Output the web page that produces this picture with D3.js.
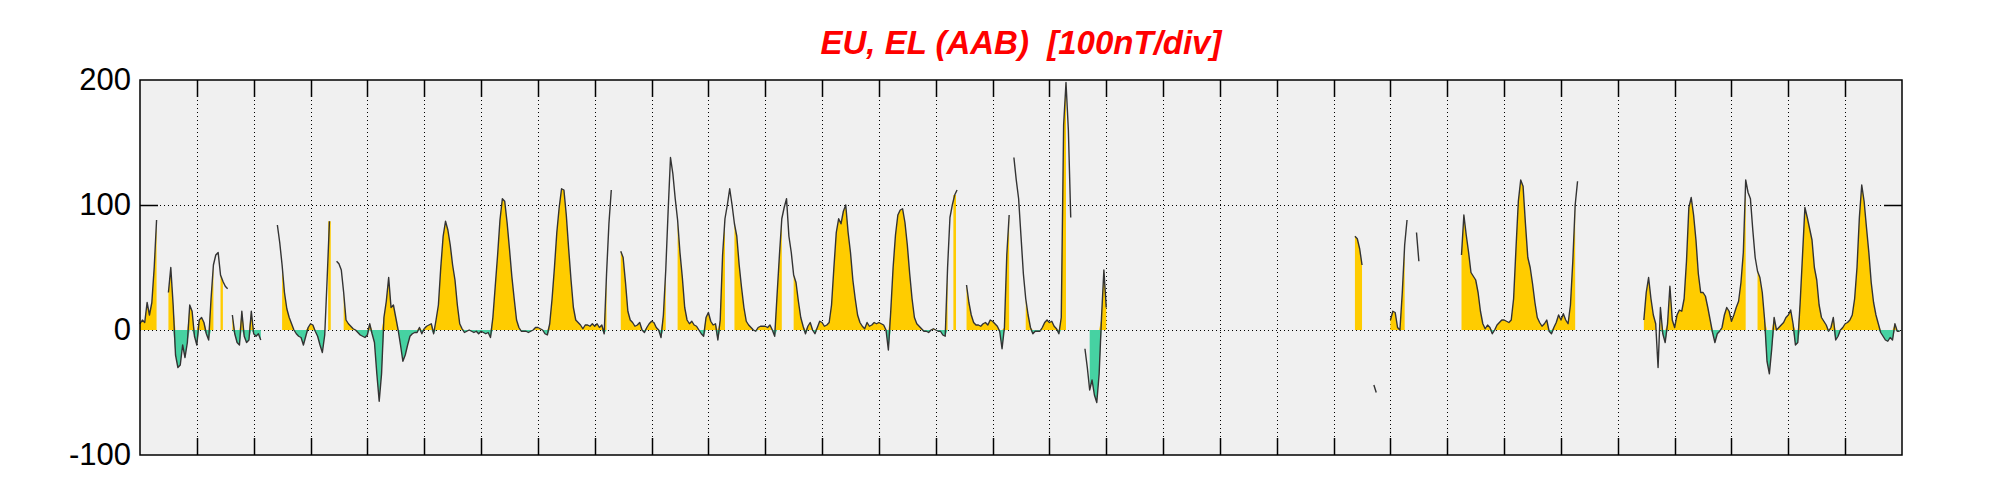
<!DOCTYPE html>
<html><head><meta charset="utf-8">
<script src="https://cdn.jsdelivr.net/npm/d3@7"></script>
<style>body{margin:0;background:#fff}svg{display:block}</style>
</head><body>
<svg id="chart" width="2001" height="500"></svg>
<script>
const chartTitle = "EU, EL (AAB)  [100nT/div]";
const yTickValues = [-100, 0, 100, 200];
const yTickLabels = ["-100", "0", "100", "200"];
const dayCount = 31;
const hoursPerDay = 24;

// hourly values (nT), one row per day; null = missing data
const dailyValues = [
 [5, 8, 6, 22, 12, 22, 50, 88, null, null, null, null, 30, 50, 20, -20, -30, -28, -12, -22, -10, 20, 15, -5],
 [-12, 8, 10, 6, -3, -8, 25, 52, 60, 62, 44, 39, 35, 33, null, 12, -3, -10, -12, 15, -5, -10, -8, 15],
 [-3, -5, -3, -8, null, null, null, null, null, null, 84, 70, 52, 30, 17, 10, 5, 0, -3, -5, -6, -12, -5, 2],
 [5, 4, -1, -5, -12, -18, -4, 40, 87, null, null, 55, 53, 48, 30, 8, 5, 3, 1, 0, -2, -4, -5, -6],
 [-4, 5, -3, -10, -35, -57, -35, 10, 23, 42, 18, 20, 10, 0, -12, -25, -20, -12, -5, -3, -2, -2, 2, -3],
 [1, 3, 4, 5, -3, 8, 20, 50, 75, 87, 80, 68, 52, 40, 20, 5, 1, -2, -1, 0, -1, -2, -1, -3],
 [-1, -2, -3, -2, -6, 10, 35, 60, 88, 105, 103, 86, 65, 43, 25, 8, 2, -1, -1, -1, -2, -1, 0, 2],
 [2, 1, 0, -3, -4, 5, 25, 50, 78, 98, 113, 112, 92, 65, 40, 18, 8, 6, 4, 1, 4, 4, 3, 5],
 [3, 5, 2, 4, -3, 45, 85, 112, null, null, null, 63, 58, 38, 15, 8, 6, 3, 4, 6, 0, -2, 2, 5],
 [7, 6, 2, 0, -6, 12, 48, 95, 138, 125, 105, 88, 62, 42, 18, 8, 5, 7, 4, 3, 0, -3, -5, 10],
 [14, 7, 4, 5, -8, 8, 60, 89, 100, 113, 100, 85, 75, 52, 34, 18, 7, 4, 2, 0, -1, 2, 3, 3],
 [3, 2, 4, 0, -5, 28, 60, 89, 98, 105, 75, 62, 44, 38, 23, 10, 3, -3, 3, 6, 0, -3, 2, 7],
 [6, 3, 4, 6, 20, 50, 78, 89, 85, 95, 100, 78, 62, 40, 25, 12, 6, 3, 1, 6, 3, 4, 6, 5],
 [6, 5, 4, 0, -16, 15, 50, 76, 92, 96, 97, 86, 68, 45, 25, 10, 5, 3, 1, -1, -1, -2, 0, 1],
 [0, -1, -1, -4, -5, 50, 90, 100, 108, 112, null, null, null, 36, 22, 12, 6, 4, 4, 3, 5, 6, 4, 8],
 [7, 5, 3, -1, -15, 2, 60, 92, null, 138, 120, 105, 75, 45, 25, 12, 2, -3, -1, -1, -1, 2, 6, 8],
 [6, 7, 3, 1, -3, 10, 164, 198, 160, 90, null, null, null, null, null, -15, -30, -48, -40, -52, -58, -35, 10, 48],
 [18, null, null, null, null, null, null, null, null, null, null, null, null, null, null, null, null, null, null, null, null, null, null, null],
 [null, null, null, null, null, null, null, null, null, null, null, null, null, null, null, null, null, null, null, null, null, null, null, null],
 [null, null, null, null, null, null, null, null, null, null, null, null, null, null, null, null, null, null, null, null, null, null, null, null],
 [null, null, null, null, null, null, null, null, null, null, null, null, null, null, null, null, null, null, null, null, null, null, null, null],
 [null, null, null, null, null, null, null, null, null, 75, 73, 65, 52, null, null, null, null, -44, -50, null, null, null, null, null],
 [8, 15, 14, 2, 0, 30, 68, 88, null, null, null, 78, 55, null, null, null, null, null, null, null, null, null, null, null],
 [null, null, null, null, null, null, 60, 92, 76, 62, 46, 43, 40, 30, 15, 5, 1, 4, 2, -3, 0, 4, 6, 8],
 [8, 7, 6, 8, 25, 65, 103, 120, 115, 85, 58, 50, 37, 22, 10, 6, 3, 5, 8, -1, -3, 2, 6, 12],
 [8, 13, 8, 5, 20, 55, 100, 119, null, null, null, null, null, null, null, null, null, null, null, null, null, null, null, null],
 [null, null, null, null, null, null, null, null, null, null, null, 8, 30, 42, 25, 12, 5, -30, 18, -3, -10, 5, 35, 8],
 [2, 12, 16, 15, 25, 55, 98, 106, 92, 72, 45, 30, 30, 27, 18, 8, -2, -10, -3, -1, 2, 12, 18, 15],
 [7, 12, 18, 23, 38, 62, 120, 110, 105, 80, 58, 47, 42, 30, 8, -25, -35, -15, 10, 0, 2, 4, 6, 10],
 [12, 16, 5, -12, -10, 22, 60, 98, 90, 81, 72, 50, 40, 20, 10, 7, 4, -1, 2, 10, -8, -5, 0, 2],
 [5, 6, 8, 12, 25, 50, 90, 116, 103, 82, 62, 38, 22, 12, 5, -2, -5, -8, -9, -6, -8, 5, -1, -1]
];

// hour indices where only the trace is drawn (no fill)
const lineOnlyHours = [32, 33, 36, 37, 58, 59, 79, 83, 84, 85, 198, 199, 223, 224, 225, 226,
  248, 249, 250, 272, 273, 274, 275, 342, 343, 345, 369, 370, 371, 372, 373,
  392, 393, 399, 400, 521, 522, 535, 539, 540, 607, 641, 679, 680, 681, 682];

const colors = {pos: "#ffcc00", neg: "#46d2a2", line: "#333333", bg: "#f0f0f0", title: "#ff0000"};

const svg = d3.select("#chart");
const L = 140, R = 1902, T = 80, B = 455;
const totalHours = dayCount * hoursPerDay;
const x = d3.scaleLinear().domain([0, totalHours]).range([L, R]);
const y = d3.scaleLinear().domain([-100, 200]).range([B, T]);

const values = dailyValues.flat();
const lineOnly = new Set(lineOnlyHours);
const pts = values.map((v, i) => ({i, v, fill: v !== null && !lineOnly.has(i)}));

svg.append("rect").attr("x", L).attr("y", T).attr("width", R - L).attr("height", B - T).attr("fill", colors.bg);

// grid
const dayIdx = d3.range(1, dayCount);
svg.append("g").selectAll("line").data(dayIdx).join("line")
  .attr("x1", d => Math.round(x(d * hoursPerDay)) + 0.5).attr("x2", d => Math.round(x(d * hoursPerDay)) + 0.5)
  .attr("y1", T).attr("y2", B).attr("stroke", "#000").attr("stroke-width", 1).attr("stroke-dasharray", "1,3");
svg.append("g").selectAll("line").data([0, 100]).join("line")
  .attr("x1", L).attr("x2", R).attr("y1", d => Math.round(y(d)) + 0.5).attr("y2", d => Math.round(y(d)) + 0.5)
  .attr("stroke", "#000").attr("stroke-width", 1).attr("stroke-dasharray", "1,3");

// fills
const areaPos = d3.area().defined(d => d.fill).x(d => x(d.i)).y0(y(0)).y1(d => y(Math.max(0, d.v)));
const areaNeg = d3.area().defined(d => d.fill).x(d => x(d.i)).y0(y(0)).y1(d => y(Math.min(0, d.v)));
svg.append("path").datum(pts).attr("d", areaPos).attr("fill", colors.pos);
svg.append("path").datum(pts).attr("d", areaNeg).attr("fill", colors.neg);
const isolated = pts.filter((d, k) => d.fill && !(pts[k - 1] && pts[k - 1].fill) && !(pts[k + 1] && pts[k + 1].fill));
svg.append("g").selectAll("rect").data(isolated).join("rect")
  .attr("x", d => x(d.i) - 1.3).attr("width", 2.6)
  .attr("y", d => Math.min(y(d.v), y(0))).attr("height", d => Math.abs(y(d.v) - y(0)))
  .attr("fill", d => d.v >= 0 ? colors.pos : colors.neg);

// trace
const line = d3.line().defined(d => d.v !== null).x(d => x(d.i)).y(d => y(d.v));
svg.append("path").datum(pts).attr("d", line).attr("fill", "none")
  .attr("stroke", colors.line).attr("stroke-width", 1.4).attr("stroke-linejoin", "round");

// ticks
const tk = svg.append("g").attr("stroke", "#000").attr("stroke-width", 1.5);
dayIdx.forEach(d => {
  const xx = Math.round(x(d * hoursPerDay)) + 0.5;
  tk.append("line").attr("x1", xx).attr("x2", xx).attr("y1", T).attr("y2", T + 17);
  tk.append("line").attr("x1", xx).attr("x2", xx).attr("y1", B - 17).attr("y2", B);
});
yTickValues.filter(v => v === 100).forEach(v => {
  const yy = Math.round(y(v)) + 0.5;
  tk.append("line").attr("x1", L).attr("x2", L + 18).attr("y1", yy).attr("y2", yy);
  tk.append("line").attr("x1", R - 18).attr("x2", R).attr("y1", yy).attr("y2", yy);
});

// frame
svg.append("rect").attr("x", L).attr("y", T).attr("width", R - L).attr("height", B - T)
  .attr("fill", "none").attr("stroke", "#000").attr("stroke-width", 1.5);

// y labels
const yAxis = d3.axisLeft(y).tickValues(yTickValues).tickFormat((d, i) => yTickLabels[i]).tickSize(0).tickPadding(9);
const ga = svg.append("g").attr("transform", `translate(${L},0)`).call(yAxis);
ga.select(".domain").remove();
ga.selectAll("text").attr("font-family", "'Liberation Sans', Arial, sans-serif").attr("font-size", 31).attr("fill", "#000");

// title
svg.append("text").attr("x", (L + R) / 2).attr("y", 54).attr("text-anchor", "middle")
  .attr("font-family", "'Liberation Sans', Arial, sans-serif").attr("font-size", 33)
  .attr("font-weight", "bold").attr("font-style", "italic").attr("fill", colors.title)
  .style("white-space", "pre").text(chartTitle);
</script>
</body></html>
